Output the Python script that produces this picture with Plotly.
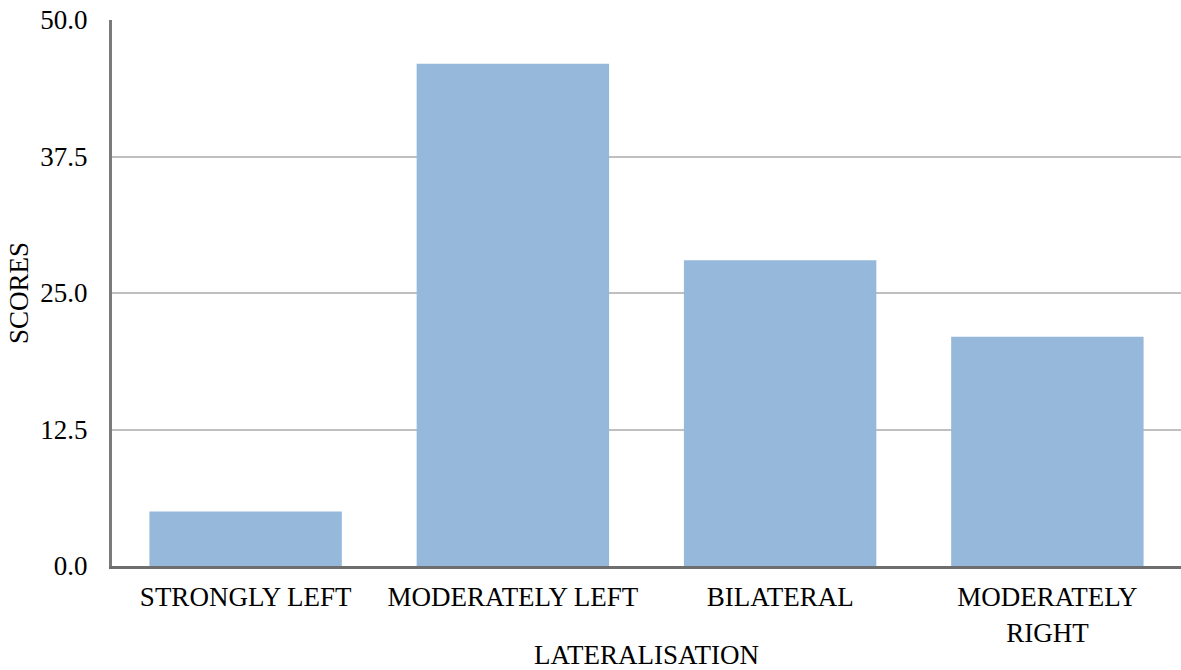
import plotly.graph_objects as go

categories = ["STRONGLY LEFT", "MODERATELY LEFT", "BILATERAL", "MODERATELY<br>RIGHT"]
scores = [5.0, 46.0, 28.0, 21.0]
y_ticks = [0.0, 12.5, 25.0, 37.5, 50.0]

font_family = "Liberation Serif, Times New Roman, serif"
fsize = 27

fig = go.Figure(
    go.Bar(
        x=categories,
        y=scores,
        marker=dict(color="#95B8DB", line=dict(width=0)),
        hoverinfo="x+y",
    )
)

fig.update_layout(
    width=1181,
    height=670,
    margin=dict(l=112, r=0, t=20, b=104),
    paper_bgcolor="white",
    plot_bgcolor="white",
    bargap=0.28,
    showlegend=False,
    font=dict(family=font_family, size=fsize, color="#000000"),
)

fig.update_xaxes(
    automargin=False,
    showgrid=False,
    showline=True,
    linecolor="#6E6E6E",
    linewidth=3,
    ticks="outside",
    ticklen=5,
    tickcolor="rgba(0,0,0,0)",
    tickfont=dict(family=font_family, size=fsize, color="#000000"),
    title=dict(text="LATERALISATION", standoff=4,
               font=dict(family=font_family, size=fsize, color="#000000")),
)

fig.update_yaxes(
    automargin=False,
    range=[0, 50],
    tickvals=y_ticks,
    tickformat=".1f",
    showgrid=True,
    gridcolor="#BFBFBF",
    gridwidth=2,
    zeroline=False,
    showline=True,
    linecolor="#7A7A7A",
    linewidth=3,
    ticks="outside",
    ticklen=16,
    tickcolor="rgba(0,0,0,0)",
    tickfont=dict(family=font_family, size=fsize, color="#000000"),
    title=dict(text="SCORES", standoff=4,
               font=dict(family=font_family, size=fsize, color="#000000")),
)

fig.write_html(
    "out.html",
    config={"responsive": False, "displayModeBar": False},
    post_script="document.body.style.margin='0';document.body.style.overflow='hidden';",
)
